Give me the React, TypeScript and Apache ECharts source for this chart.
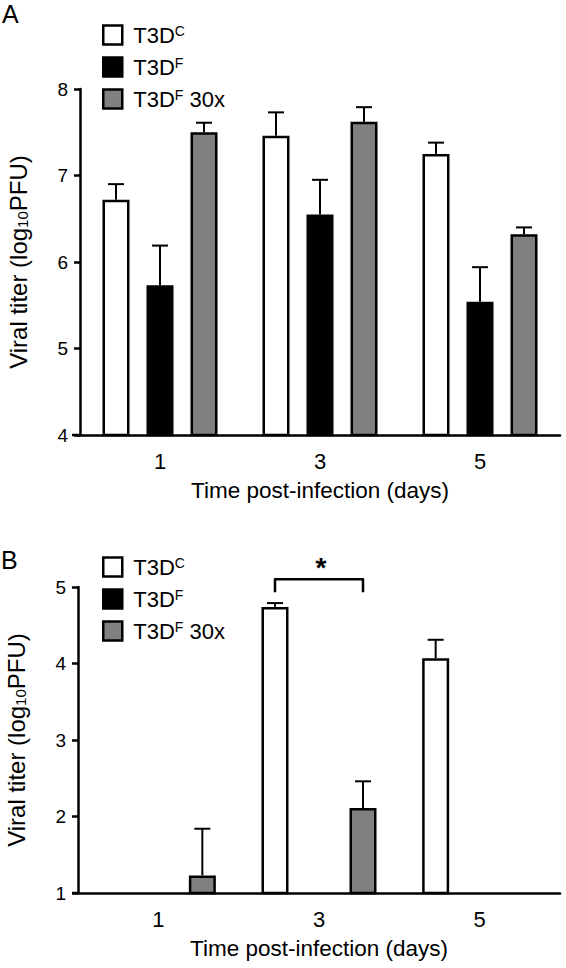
import React, { useEffect, useRef } from "react";
import * as echarts from "echarts";

// ---------- data ----------
const categories = ["1", "3", "5"];
const seriesNames = ["T3DC", "T3DF", "T3DF30x"];
const seriesColors = ["#ffffff", "#000000", "#808080"];

// Panel A (log10 PFU)
const aMeanC = [6.72, 7.46, 7.25];
const aUpperC = [6.9, 7.73, 7.38];
const aMeanF = [5.73, 6.55, 5.54];
const aUpperF = [6.19, 6.95, 5.94];
const aMean30 = [7.5, 7.62, 6.32];
const aUpper30 = [7.61, 7.79, 6.4];

// Panel B (log10 PFU)
const bMeanC = [null, 4.74, 4.07];
const bUpperC = [null, 4.79, 4.31];
const bMeanF = [null, null, null];
const bUpperF = [null, null, null];
const bMean30 = [1.23, 2.11, null];
const bUpper30 = [1.84, 2.46, null];

// significance bracket in panel B: category index, top value, end value, star value
const bracketB = [[1, 5.1, 4.93, 5.26]];

const aTicks = { min: 4, max: 8, interval: 1 };
const bTicks = { min: 1, max: 5, interval: 1 };

// ---------- styling ----------
const FONT = '"Liberation Sans", Arial, Helvetica, sans-serif';
const BAR_W = 27;
const BAR_GAP = 0.63;
const OFFSET = BAR_W * (1 + BAR_GAP);
const LW = 2.5;

const gridA = { left: 80, right: 6, top: 89, height: 346 };
const gridB = { left: 78, right: 6, top: 587, height: 306 };
const H = 968;

const legendLabel: Record<string, string> = {
  T3DC: "{m|T3D}{s|C}",
  T3DF: "{m|T3D}{s|F}",
  T3DF30x: "{m|T3D}{s|F}{m| 30x}",
};

function errData(means: (number | null)[][], uppers: (number | null)[][]) {
  const out: number[][] = [];
  means.forEach((arr, s) => {
    arr.forEach((m, c) => {
      const u = uppers[s][c];
      if (m != null && u != null) out.push([c, s, m, u]);
    });
  });
  return out;
}

function errorRender(params: any, api: any) {
  const cat = api.value(0);
  const s = api.value(1);
  const p0 = api.coord([cat, api.value(2)]);
  const p1 = api.coord([cat, api.value(3)]);
  const x = p0[0] + (s - 1) * OFFSET;
  return {
    type: "group",
    children: [
      { type: "line", shape: { x1: x, y1: p0[1], x2: x, y2: p1[1] }, style: { stroke: "#000", lineWidth: 2 } },
      { type: "line", shape: { x1: x - 8, y1: p1[1], x2: x + 8, y2: p1[1] }, style: { stroke: "#000", lineWidth: 2 } },
    ],
  };
}

function bracketRender(params: any, api: any) {
  const cat = api.value(0);
  const top = api.coord([cat, api.value(1)]);
  const end = api.coord([cat, api.value(2)]);
  const star = api.coord([cat, api.value(3)]);
  const x1 = top[0] - OFFSET;
  const x2 = top[0] + OFFSET;
  return {
    type: "group",
    children: [
      {
        type: "polyline",
        shape: { points: [[x1, end[1]], [x1, top[1]], [x2, top[1]], [x2, end[1]]] },
        style: { stroke: "#000", lineWidth: LW, fill: "none", lineJoin: "round" },
      },
      {
        type: "text",
        x: star[0] + 2,
        y: star[1],
        style: { text: "*", fontSize: 28, fontWeight: "bold", fontFamily: FONT, fill: "#000", align: "center", verticalAlign: "middle" },
      },
    ],
  };
}

function makeAxes(idx: number, ticks: { min: number; max: number; interval: number }) {
  const xAxis = {
    type: "category",
    gridIndex: idx,
    data: categories,
    axisLine: { lineStyle: { color: "#000", width: LW } },
    axisTick: { alignWithLabel: true, length: 6, lineStyle: { color: "#000", width: LW } },
    axisLabel: { color: "#000", fontSize: 22, fontFamily: FONT, margin: 15 },
    name: "Time post-infection (days)",
    nameLocation: "middle",
    nameGap: 44,
    nameTextStyle: { color: "#000", fontSize: 22.5, fontFamily: FONT, verticalAlign: "top" },
    splitLine: { show: false },
  };
  const yAxis = {
    type: "value",
    gridIndex: idx,
    min: ticks.min,
    max: ticks.max,
    interval: ticks.interval,
    axisLine: { show: true, lineStyle: { color: "#000", width: LW } },
    axisTick: { show: true, length: 6, lineStyle: { color: "#000", width: LW } },
    axisLabel: { color: "#000", fontSize: 19, fontFamily: FONT, margin: 12 },
    splitLine: { show: false },
    name: "Viral titer (log{sub|10}PFU)",
    nameLocation: "middle",
    nameGap: 50,
    nameTextStyle: {
      color: "#000",
      fontSize: 24,
      fontFamily: FONT,
      lineHeight: 24,
      rich: {
        sub: { fontSize: 15, fontFamily: FONT, color: "#000", verticalAlign: "bottom", lineHeight: 18 },
      },
    },
  };
  return { xAxis, yAxis };
}

function makeLegend(top: number) {
  return {
    orient: "vertical",
    left: 97,
    top,
    icon: "rect",
    itemWidth: 19,
    itemHeight: 19,
    itemGap: 10,
    selectedMode: false,
    data: seriesNames.map((n, i) => ({
      name: n,
      itemStyle: { color: seriesColors[i], borderColor: "#000", borderWidth: LW },
    })),
    formatter: (name: string) => legendLabel[name],
    textStyle: {
      color: "#000",
      fontSize: 22,
      fontFamily: FONT,
      padding: [0, 0, 0, 6],
      rich: {
        m: { fontSize: 22, fontFamily: FONT, color: "#000", lineHeight: 22 },
        s: { fontSize: 14, fontFamily: FONT, color: "#000", verticalAlign: "top", lineHeight: 14 },
      },
    },
  };
}

function barSeries(idx: number, data: (number | null)[][]) {
  return data.map((d, s) => ({
    type: "bar",
    name: seriesNames[s],
    xAxisIndex: idx,
    yAxisIndex: idx,
    data: d,
    barWidth: BAR_W,
    barGap: `${BAR_GAP * 100}%`,
    itemStyle: { color: seriesColors[s], borderColor: "#000", borderWidth: LW },
    emphasis: { disabled: true },
  }));
}

export default function App() {
  const ref = useRef<HTMLDivElement>(null);

  useEffect(() => {
    if (!ref.current) return;
    const chart = echarts.init(ref.current, null, { renderer: "svg" });
    const axA = makeAxes(0, aTicks);
    const axB = makeAxes(1, bTicks);
    const aBottom = gridA.top + gridA.height;
    const bBottom = gridB.top + gridB.height;

    chart.setOption({
      animation: false,
      backgroundColor: "#fff",
      textStyle: { fontFamily: FONT },
      grid: [
        { ...gridA, outerBoundsMode: "none", containLabel: false },
        { ...gridB, outerBoundsMode: "none", containLabel: false },
      ],
      xAxis: [axA.xAxis, axB.xAxis],
      yAxis: [axA.yAxis, axB.yAxis],
      legend: [makeLegend(19), makeLegend(551)],
      graphic: [
        { type: "text", left: 2, top: 1, style: { text: "A", fontSize: 25, fontFamily: FONT, fill: "#000" } },
        { type: "text", left: 1, top: 547, style: { text: "B", fontSize: 25, fontFamily: FONT, fill: "#000" } },
        { type: "line", shape: { x1: gridA.left - 8, y1: aBottom, x2: gridA.left, y2: aBottom }, style: { stroke: "#000", lineWidth: LW } },
        { type: "line", shape: { x1: gridB.left - 6, y1: bBottom, x2: gridB.left, y2: bBottom }, style: { stroke: "#000", lineWidth: LW } },
      ],
      series: [
        ...barSeries(0, [aMeanC, aMeanF, aMean30]),
        ...barSeries(1, [bMeanC, bMeanF, bMean30]),
        {
          type: "custom",
          xAxisIndex: 0,
          yAxisIndex: 0,
          renderItem: errorRender,
          encode: { x: 0, y: [2, 3] },
          data: errData([aMeanC, aMeanF, aMean30], [aUpperC, aUpperF, aUpper30]),
          z: 3,
          silent: true,
        },
        {
          type: "custom",
          xAxisIndex: 1,
          yAxisIndex: 1,
          renderItem: errorRender,
          encode: { x: 0, y: [2, 3] },
          data: errData([bMeanC, bMeanF, bMean30], [bUpperC, bUpperF, bUpper30]),
          z: 3,
          silent: true,
        },
        {
          type: "custom",
          xAxisIndex: 1,
          yAxisIndex: 1,
          renderItem: bracketRender,
          encode: { x: 0, y: [1, 2] },
          data: bracketB,
          clip: false,
          z: 3,
          silent: true,
        },
      ],
    });
    return () => chart.dispose();
  }, []);

  return (
    <div
      ref={ref}
      style={{ position: "fixed", left: 0, top: 0, width: 566, height: H, background: "#fff" }}
    />
  );
}
